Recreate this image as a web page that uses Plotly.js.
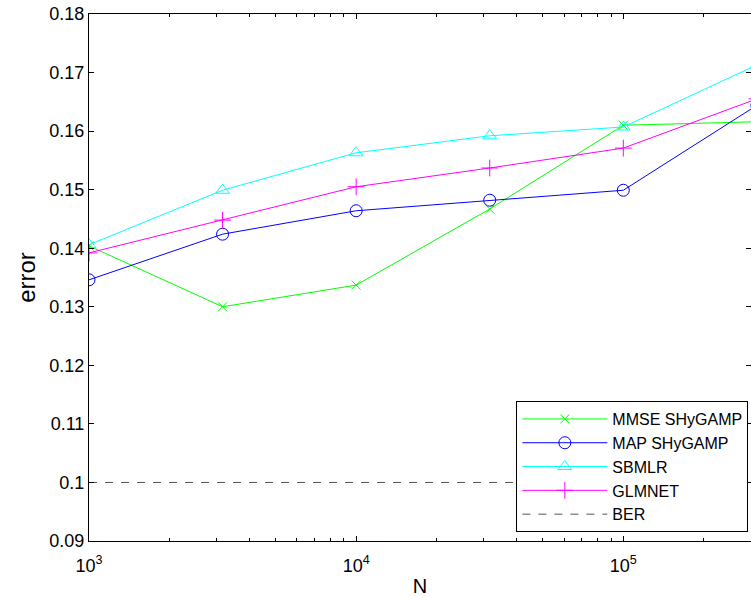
<!DOCTYPE html>
<html>
<head>
<meta charset="utf-8">
<script src="https://cdn.plot.ly/plotly-3.0.1.min.js"></script>
<style>html,body{margin:0;padding:0;background:#fff;}#chart{width:751px;height:597px;}</style>
</head>
<body>
<div id="chart"></div>
<script>
// Sample sizes N
const N = [1000, 3162, 10000, 31623, 100000, 316228];
// Error values per method
const mmseSHyGAMP = [0.1404, 0.1300, 0.1337, 0.1467, 0.1610, 0.1616];
const mapSHyGAMP  = [0.1346, 0.1424, 0.1464, 0.1482, 0.1499, 0.1644];
const sbmlr       = [0.1406, 0.1499, 0.1563, 0.1592, 0.1607, 0.1713];
const glmnet      = [0.1392, 0.1448, 0.1505, 0.1537, 0.1571, 0.1655];
const ber         = [0.1, 0.1, 0.1, 0.1, 0.1, 0.1];
const names = ['MMSE SHyGAMP', 'MAP SHyGAMP', 'SBMLR', 'GLMNET', 'BER'];
const xTickVals = [1000, 10000, 100000];
const xTickText = ['10<sup>3</sup>', '10<sup>4</sup>', '10<sup>5</sup>'];

const font = 'Liberation Sans, Arial, sans-serif';
function tr(y, name, color, symbol, size, dash) {
  const t = {
    x: N, y: y, name: name, type: 'scatter',
    mode: symbol ? 'lines+markers' : 'lines',
    line: {color: color, width: 1, dash: dash || 'solid'}
  };
  if (symbol) t.marker = {symbol: symbol, size: size, color: color, line: {color: color, width: 1}};
  return t;
}
const data = [
  tr(mmseSHyGAMP, names[0], '#00ff00', 'x-thin-open', 9),
  tr(mapSHyGAMP, names[1], '#0000ff', 'circle-open', 12),
  tr(sbmlr, names[2], '#00ffff', 'triangle-up-open', 12),
  tr(glmnet, names[3], '#ff00ff', 'cross-thin-open', 12),
  tr(ber, names[4], '#555555', null, 0, '8px,8px')
];
const layout = {
  width: 751, height: 597,
  margin: {l: 88.5, r: 0, t: 14, b: 56},
  paper_bgcolor: '#fff', plot_bgcolor: '#fff',
  font: {family: font, size: 18, color: '#000'},
  showlegend: true,
  legend: {
    x: 0.996, xanchor: 'right', y: 0.017, yanchor: 'bottom',
    bgcolor: '#fff', bordercolor: '#000', borderwidth: 1,
    font: {family: font, size: 16, color: '#000'},
    itemwidth: 85,
    tracegroupgap: 0
  },
  xaxis: {
    type: 'log', range: [3, 5.478],
    tickvals: xTickVals, ticktext: xTickText,
    ticks: 'inside', ticklen: 5, tickcolor: '#000', tickwidth: 1,
    ticklabelstandoff: 8,
    minor: {ticks: 'inside', ticklen: 3, tickcolor: '#000', tickwidth: 1, dtick: 'D1', showgrid: false},
    showline: true, linecolor: '#000', linewidth: 1, mirror: 'ticks',
    showgrid: false, zeroline: false,
    tickfont: {family: font, size: 18},
    title: {text: 'N', font: {family: font, size: 20}, standoff: 12}
  },
  yaxis: {
    range: [0.09, 0.18], dtick: 0.01, tick0: 0.09,
    ticks: 'inside', ticklen: 5, tickcolor: '#000', tickwidth: 1,
    showline: true, linecolor: '#000', linewidth: 1, mirror: 'ticks',
    showgrid: false, zeroline: false,
    tickfont: {family: font, size: 18},
    title: {text: 'error', font: {family: font, size: 24}, standoff: 6}
  }
};
Plotly.newPlot('chart', data, layout, {displayModeBar: false, staticPlot: true});
</script>
</body>
</html>
